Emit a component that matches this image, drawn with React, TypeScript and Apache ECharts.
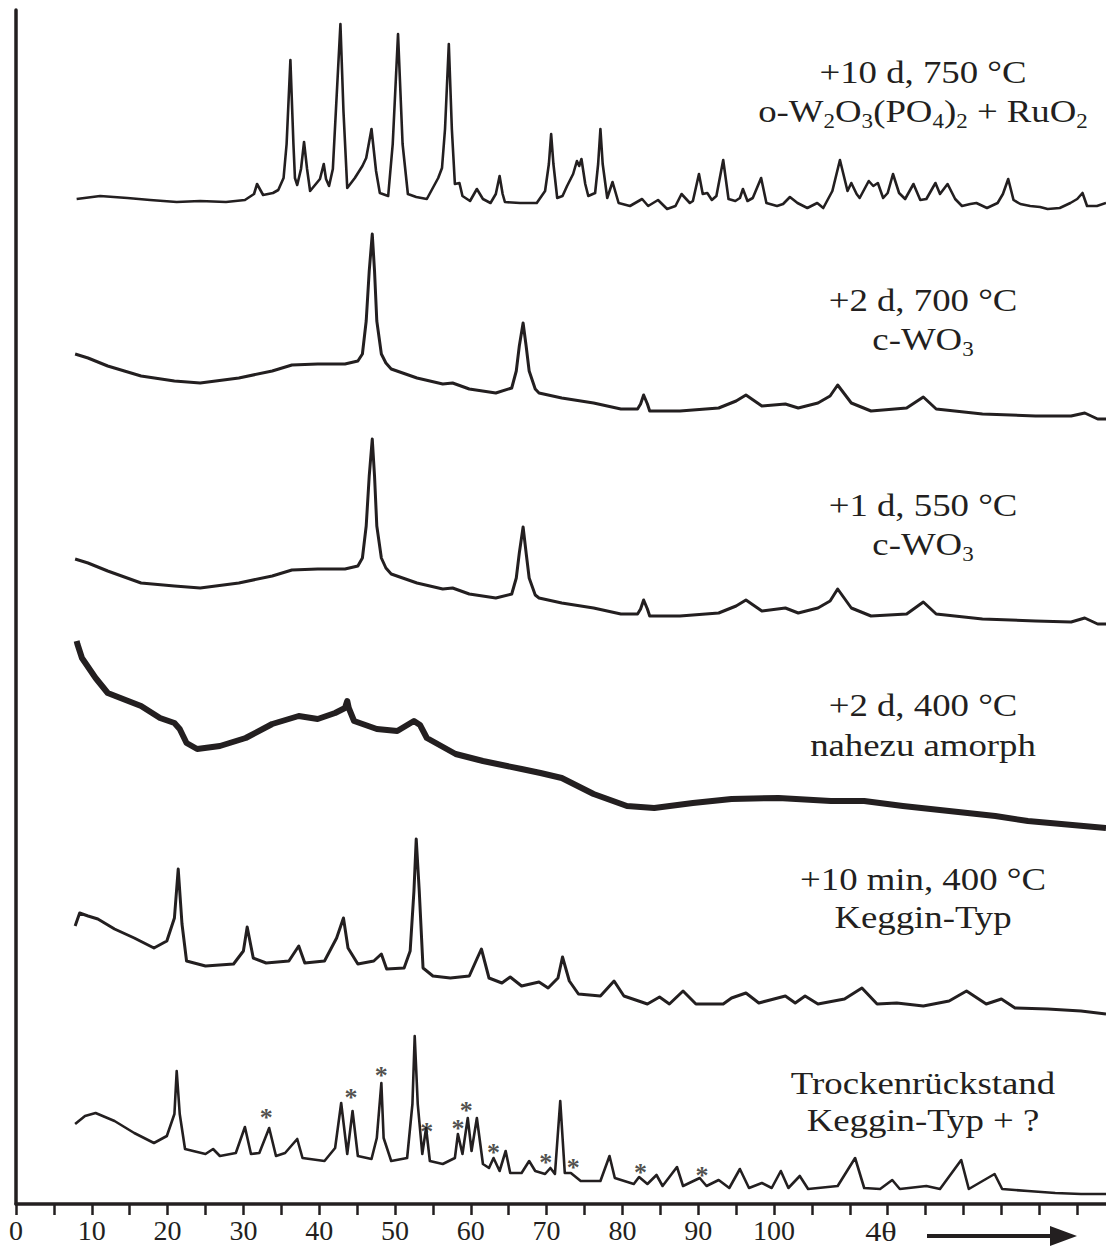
import React, { useEffect, useRef } from "react";
import * as echarts from "echarts";

const INK = "#231f20";
const SERIF = "'Liberation Serif', 'DejaVu Serif', serif";

// x axis tick labels that are printed (ticks continue beyond without labels)
const xTickLabels = [0, 10, 20, 30, 40, 50, 60, 70, 80, 90, 100];

// traces: [4θ, intensity (arbitrary units incl. stacking offset)]
const t750: [number, number][] = [
  [8.0, 1005], [11.1, 1008], [14.7, 1006], [17.7, 1004], [21.2, 1002], [24.3, 1003], [27.7, 1002], [30.2, 1004],
  [31.4, 1010], [31.8, 1020], [32.6, 1009], [33.9, 1011], [34.6, 1014], [35.3, 1026], [35.7, 1060], [36.2, 1144],
  [36.6, 1060], [36.8, 1026], [37.1, 1019], [37.6, 1035], [38.0, 1062], [38.4, 1035], [38.8, 1013], [40.1, 1025],
  [40.6, 1040], [40.9, 1025], [41.3, 1018], [41.8, 1035], [42.2, 1093], [42.8, 1180], [43.2, 1093], [43.7, 1016],
  [44.7, 1026], [45.7, 1038], [46.2, 1046], [46.9, 1075], [47.5, 1033], [48.0, 1011], [49.1, 1008], [49.7, 1060],
  [50.4, 1170], [51.0, 1060], [51.7, 1010], [52.8, 1007], [54.2, 1005], [55.7, 1026], [56.2, 1036], [56.6, 1075],
  [57.1, 1160], [57.5, 1075], [57.9, 1020], [58.5, 1021], [58.9, 1008], [59.9, 1003], [60.8, 1015], [61.6, 1005],
  [62.6, 1001], [63.3, 1010], [63.8, 1028], [64.2, 1010], [64.5, 1002], [66.5, 1001], [68.7, 1001], [69.8, 1013],
  [70.3, 1040], [70.6, 1070], [70.9, 1040], [71.4, 1006], [72.1, 1008], [72.7, 1018], [73.5, 1030], [74.0, 1043],
  [74.3, 1038], [74.6, 1045], [75.1, 1020], [75.5, 1008], [76.4, 1011], [76.8, 1040], [77.1, 1075], [77.4, 1040],
  [78.0, 1006], [78.7, 1022], [79.5, 1001], [81.0, 998], [82.6, 1005], [83.4, 998], [84.7, 1004], [85.9, 995],
  [87.0, 998], [87.8, 1010], [88.9, 1001], [89.3, 1003], [90.1, 1030], [90.6, 1010], [91.2, 1011], [91.8, 1004],
  [92.4, 1008], [93.3, 1044], [94.0, 1005], [94.9, 1003], [95.5, 1006], [95.9, 1015], [96.5, 1003], [97.2, 1006],
  [98.3, 1026], [99.0, 1001], [100.4, 998], [101.2, 1000], [102.1, 1007], [103.1, 1001], [104.4, 996], [105.7, 1001],
  [106.5, 996], [107.7, 1013], [108.7, 1044], [109.7, 1013], [110.2, 1021], [110.9, 1010], [111.3, 1006], [112.5, 1023],
  [113.1, 1018], [113.7, 1021], [114.4, 1006], [115.0, 1011], [115.7, 1030], [116.5, 1011], [117.3, 1005], [118.4, 1020],
  [119.3, 1004], [120.1, 1005], [121.3, 1021], [121.9, 1010], [122.9, 1020], [123.9, 1005], [124.8, 998], [125.9, 1000],
  [126.7, 1001], [128.1, 996], [129.5, 1001], [130.2, 1010], [130.9, 1025], [131.6, 1004], [132.5, 1000], [133.8, 998],
  [135.1, 997], [136.1, 995], [137.7, 996], [139.1, 1001], [140.0, 1005], [140.7, 1011], [141.3, 998], [142.6, 998],
  [143.8, 1001],
];

const t700: [number, number][] = [
  [7.8, 850], [9.5, 846], [12.1, 838], [16.5, 828], [20.9, 823], [24.3, 821], [29.4, 826], [33.8, 833],
  [36.4, 839], [39.8, 840], [43.4, 840], [45.1, 843], [45.7, 850], [46.2, 883], [46.6, 933], [47.0, 970],
  [47.3, 933], [47.6, 883], [48.2, 850], [48.8, 841], [49.5, 835], [52.9, 826], [56.3, 820], [57.6, 821],
  [59.8, 815], [63.3, 811], [65.4, 816], [66.0, 833], [66.4, 858], [66.9, 881], [67.3, 858], [67.7, 833],
  [68.5, 815], [69.0, 811], [72.0, 806], [76.2, 801], [79.8, 795], [82.0, 795], [82.4, 800], [82.8, 809],
  [83.3, 800], [83.6, 793], [87.6, 793], [92.7, 796], [95.0, 803], [96.3, 809], [98.4, 798], [101.5, 800],
  [103.2, 796], [105.8, 801], [107.4, 808], [108.4, 819], [110.2, 801], [112.8, 793], [117.5, 796], [119.7, 807],
  [121.4, 795], [127.5, 790], [134.5, 788], [139.2, 788], [141.0, 791], [142.7, 785], [143.8, 785],
];

const t550: [number, number][] = [
  [7.8, 645], [9.5, 641], [12.1, 633], [16.5, 621], [20.9, 618], [24.3, 616], [29.4, 621], [33.8, 628],
  [36.4, 634], [39.8, 635], [43.4, 635], [45.1, 638], [45.7, 646], [46.2, 678], [46.6, 728], [47.0, 765],
  [47.3, 728], [47.6, 678], [48.2, 646], [48.8, 636], [49.5, 630], [52.9, 621], [56.3, 615], [57.6, 616],
  [59.8, 610], [63.3, 606], [65.4, 610], [66.0, 626], [66.4, 651], [66.9, 677], [67.3, 651], [67.7, 626],
  [68.5, 609], [69.0, 606], [72.0, 601], [76.2, 596], [79.8, 590], [82.0, 590], [82.4, 595], [82.8, 604],
  [83.3, 595], [83.6, 588], [87.6, 588], [92.7, 591], [95.0, 598], [96.3, 604], [98.4, 593], [101.5, 596],
  [103.2, 591], [105.8, 596], [107.4, 603], [108.4, 615], [110.2, 596], [112.8, 588], [117.5, 590], [119.7, 602],
  [121.4, 590], [127.5, 585], [134.5, 583], [139.2, 582], [141.0, 586], [142.7, 580], [143.8, 580],
];

const t400: [number, number][] = [
  [8.0, 563], [8.1, 560], [8.7, 546], [10.5, 526], [12.1, 511], [14.8, 503], [16.5, 498], [19.0, 486],
  [20.9, 481], [21.6, 475], [22.5, 461], [23.9, 455], [26.9, 458], [30.3, 466], [33.8, 480], [37.3, 488],
  [39.8, 485], [42.1, 491], [43.4, 496], [43.7, 503], [43.9, 496], [44.6, 483], [47.6, 475], [50.3, 473],
  [52.5, 483], [53.3, 479], [54.2, 466], [58.0, 450], [61.6, 443], [66.7, 435], [69.2, 431], [72.0, 426],
  [76.2, 410], [80.6, 398], [84.2, 396], [89.3, 401], [94.4, 405], [100.6, 406], [107.5, 403], [111.9, 403],
  [117.0, 398], [123.1, 393], [129.2, 388], [133.5, 383], [137.9, 380], [143.8, 376],
];

const t10min: [number, number][] = [
  [7.8, 278], [8.4, 291], [9.5, 288], [10.8, 285], [13.0, 275], [15.6, 266], [18.2, 256], [19.9, 263],
  [20.9, 286], [21.4, 335], [21.9, 280], [22.5, 243], [25.0, 238], [28.7, 240], [30.0, 253], [30.5, 277],
  [31.3, 246], [33.0, 241], [36.0, 243], [37.3, 258], [38.1, 241], [40.7, 243], [42.3, 266], [43.2, 286],
  [43.8, 256], [45.1, 240], [47.2, 243], [48.2, 250], [48.9, 235], [51.2, 236], [52.0, 253], [52.5, 313],
  [52.8, 365], [53.2, 313], [53.7, 236], [55.0, 228], [57.3, 226], [59.8, 228], [60.8, 245], [61.4, 255],
  [62.4, 226], [64.1, 221], [65.2, 227], [66.7, 218], [69.0, 222], [70.2, 216], [71.5, 226], [72.1, 247],
  [73.0, 223], [74.2, 210], [77.1, 208], [78.9, 223], [80.2, 208], [83.3, 200], [84.9, 207], [86.2, 200],
  [88.0, 213], [89.7, 200], [93.3, 200], [94.4, 206], [96.3, 211], [98.0, 201], [101.5, 208], [102.8, 201],
  [104.1, 208], [105.8, 200], [109.3, 205], [111.6, 216], [113.6, 200], [116.2, 201], [119.7, 198], [123.1, 203],
  [125.4, 213], [128.0, 200], [130.0, 205], [131.8, 196], [136.1, 195], [140.5, 193], [143.8, 190],
];

const tDry: [number, number][] = [
  [7.8, 80], [9.1, 88], [10.5, 91], [13.0, 83], [15.6, 71], [18.2, 61], [19.9, 68], [20.9, 90],
  [21.2, 133], [21.6, 90], [22.3, 55], [25.0, 50], [26.0, 55], [26.9, 48], [29.0, 51], [30.2, 77],
  [31.0, 50], [32.1, 51], [33.4, 76], [34.3, 48], [35.5, 51], [37.1, 65], [37.8, 46], [40.7, 43],
  [42.1, 56], [42.9, 101], [43.7, 50], [44.4, 93], [45.1, 48], [46.9, 45], [47.6, 66], [48.2, 121],
  [48.5, 66], [49.5, 43], [51.6, 46], [52.3, 100], [52.6, 168], [53.0, 100], [53.6, 50], [54.1, 76],
  [54.6, 43], [56.3, 40], [57.9, 46], [58.3, 70], [58.9, 50], [59.6, 86], [60.1, 53], [60.8, 86],
  [61.6, 40], [62.4, 36], [63.0, 46], [63.8, 33], [64.6, 53], [65.2, 31], [66.7, 31], [67.7, 43],
  [68.5, 33], [69.8, 30], [70.5, 36], [71.1, 30], [71.8, 103], [72.4, 31], [73.2, 31], [74.5, 23],
  [77.1, 23], [78.3, 48], [79.0, 26], [81.5, 20], [82.2, 27], [83.3, 20], [84.5, 29], [85.3, 18],
  [87.2, 37], [88.0, 18], [90.2, 26], [91.1, 18], [92.7, 24], [94.1, 16], [95.5, 35], [96.7, 16],
  [98.4, 21], [99.7, 16], [100.9, 33], [101.9, 16], [103.4, 28], [104.5, 15], [108.4, 18], [110.7, 46],
  [111.9, 16], [114.0, 15], [115.6, 24], [116.6, 15], [120.1, 18], [121.9, 15], [124.7, 44], [125.7, 15],
  [129.1, 30], [130.1, 15], [133.5, 13], [137.1, 11], [140.5, 10], [143.8, 10],
];

// asterisk markers on the bottom trace
const starMarks: [number, number][] = [
  [33.0, 91], [44.2, 111], [48.2, 133], [54.2, 77], [58.3, 80], [59.4, 98],
  [63.0, 56], [69.9, 46], [73.5, 41], [82.4, 36], [90.5, 33],
];

// sample annotations (rich text: {n|..} normal, {s|..} subscript)
const sampleLabels: string[][] = [
  ["+10 d, 750 °C", "{n|o-W}{s|2}{n|O}{s|3}{n|(PO}{s|4}{n|)}{s|2}{n| + RuO}{s|2}"],
  ["+2 d, 700 °C", "{n|c-WO}{s|3}"],
  ["+1 d, 550 °C", "{n|c-WO}{s|3}"],
  ["+2 d, 400 °C", "nahezu amorph"],
  ["+10 min, 400 °C", "Keggin-Typ"],
  ["Trockenrückstand", "Keggin-Typ + ?"],
];
const labelLineY: number[][] = [
  [72, 111], [300, 339], [505, 544], [705, 745], [879, 917], [1083, 1120],
];

const traces = [
  { name: "+10 d, 750 °C", data: t750, width: 2.6 },
  { name: "+2 d, 700 °C", data: t700, width: 3 },
  { name: "+1 d, 550 °C", data: t550, width: 3 },
  { name: "+2 d, 400 °C", data: t400, width: 6 },
  { name: "+10 min, 400 °C", data: t10min, width: 3 },
  { name: "Trockenrückstand", data: tDry, width: 2.6 },
];

export default function App() {
  const ref = useRef<HTMLDivElement>(null);

  useEffect(() => {
    if (!ref.current) return;
    const chart = echarts.init(ref.current, null, { renderer: "svg" });

    const textEls: any[] = [];
    sampleLabels.forEach((lines, i) => {
      lines.forEach((t, j) => {
        const isRich = t.indexOf("{n|") >= 0;
        textEls.push({
          type: "text",
          x: 923,
          y: labelLineY[i][j],
          scaleX: 1.15,
          style: {
            text: t,
            fill: INK,
            fontSize: 32,
            fontFamily: SERIF,
            align: "center",
            textAlign: "center",
            verticalAlign: "middle",
            textVerticalAlign: "middle",
            rich: isRich
              ? {
                  n: { fontSize: 32, fontFamily: SERIF, fill: INK, lineHeight: 40, verticalAlign: "middle" },
                  s: { fontSize: 20, fontFamily: SERIF, fill: INK, lineHeight: 20, verticalAlign: "bottom" },
                }
              : undefined,
          },
        });
      });
    });

    const graphic: any[] = [
      ...textEls,
      {
        type: "text",
        x: 881,
        y: 1232,
        scaleX: 1.15,
        style: {
          text: "4θ",
          fill: INK,
          fontSize: 28,
          fontFamily: SERIF,
          align: "center",
          textAlign: "center",
          verticalAlign: "middle",
          textVerticalAlign: "middle",
        },
      },
      {
        type: "line",
        shape: { x1: 927, y1: 1236, x2: 1056, y2: 1236 },
        style: { stroke: INK, lineWidth: 4 },
      },
      {
        type: "polygon",
        shape: { points: [[1050, 1226], [1077, 1236], [1050, 1246]] },
        style: { fill: INK },
      },
    ];

    chart.setOption({
      animation: false,
      backgroundColor: "#ffffff",
      grid: {
        left: 16,
        right: 0,
        top: 10,
        bottom: 43,
        containLabel: false,
        outerBoundsMode: "none",
      },
      xAxis: {
        type: "value",
        min: 0,
        max: 143.8,
        interval: 5,
        axisLine: { show: true, lineStyle: { color: INK, width: 3.5 } },
        axisTick: { show: true, length: 11, lineStyle: { color: INK, width: 2.5 } },
        minorTick: { show: false },
        splitLine: { show: false },
        minorSplitLine: { show: false },
        axisLabel: {
          show: true,
          margin: 13,
          color: INK,
          fontSize: 28,
          lineHeight: 26,
          fontFamily: SERIF,
          showMinLabel: true,
          showMaxLabel: false,
          hideOverlap: false,
          interval: 0,
          formatter: (v: number) => (xTickLabels.indexOf(v) >= 0 ? String(v) : ""),
        },
      },
      yAxis: {
        type: "value",
        min: 0,
        max: 1194,
        axisLine: { show: true, lineStyle: { color: INK, width: 3.5 } },
        axisTick: { show: false },
        axisLabel: { show: false },
        splitLine: { show: false },
      },
      series: [
        ...traces.map((t) => ({
          type: "line",
          name: t.name,
          data: t.data,
          showSymbol: false,
          symbol: "none",
          smooth: false,
          lineStyle: { color: INK, width: t.width, join: "round" },
          emphasis: { disabled: true },
        })),
        {
          type: "scatter",
          name: "stars",
          data: starMarks,
          symbol: "circle",
          symbolSize: 1,
          itemStyle: { color: "rgba(0,0,0,0)" },
          label: {
            show: true,
            formatter: "*",
            position: "inside",
            color: INK,
            fontSize: 26,
            fontWeight: "bold",
            fontFamily: SERIF,
            lineHeight: 12,
            offset: [0, 4],
          },
          emphasis: { disabled: true },
        },
      ],
      graphic,
    });

    return () => chart.dispose();
  }, []);

  return (
    <div
      ref={ref}
      style={{ position: "absolute", left: 0, top: 0, width: 1106, height: 1247, background: "#fff" }}
    />
  );
}
